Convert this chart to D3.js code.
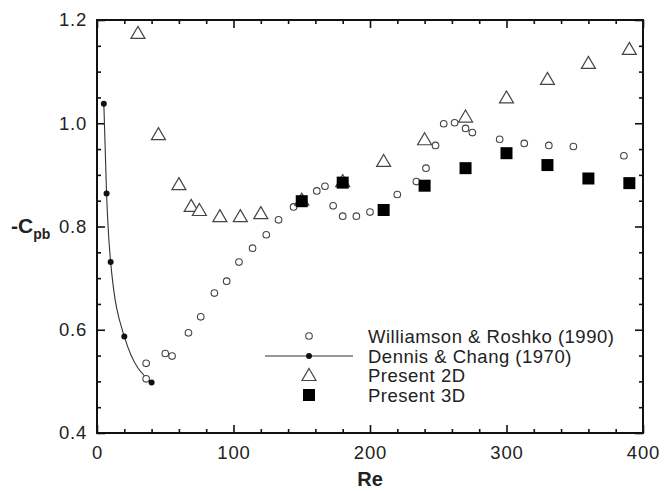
<!DOCTYPE html>
<html>
<head>
<meta charset="utf-8">
<script src="https://cdn.jsdelivr.net/npm/d3@7"></script>
<style>
  body { margin: 0; background: #fff; }
  svg { display: block; font-family: "Liberation Sans", Arial, sans-serif; }
</style>
</head>
<body>
<svg id="chart"></svg>
<script>
// data
const wr_re = [36, 36, 50, 55, 67, 76, 86, 95, 104, 114, 124, 133, 144, 161, 167, 173, 180, 190, 200, 220, 234, 241, 248, 254, 262, 270, 275, 295, 313, 331, 349, 386]
const wr_cp = [0.535, 0.505, 0.554, 0.549, 0.594, 0.625, 0.671, 0.694, 0.731, 0.758, 0.784, 0.813, 0.838, 0.869, 0.878, 0.840, 0.820, 0.820, 0.828, 0.862, 0.887, 0.913, 0.957, 0.999, 1.001, 0.990, 0.982, 0.969, 0.961, 0.957, 0.955, 0.937]

const dc_re = [5, 7, 10, 20, 40]
const dc_cp = [1.038, 0.864, 0.731, 0.587, 0.498]

const p2d_re = [30, 45, 60, 69, 75, 90, 105, 120, 150, 180, 210, 240, 270, 300, 330, 360, 390]
const p2d_cp = [1.175, 0.979, 0.882, 0.840, 0.832, 0.820, 0.820, 0.826, 0.852, 0.888, 0.927, 0.969, 1.013, 1.050, 1.086, 1.117, 1.144]

const p3d_re = [150, 180, 210, 240, 270, 300, 330, 360, 390]
const p3d_cp = [0.849, 0.885, 0.832, 0.879, 0.913, 0.942, 0.919, 0.893, 0.884]

const xTicks = [0, 100, 200, 300, 400]
const yTicks = [0.4, 0.6, 0.8, 1.0, 1.2]
const legendNames = ['Williamson & Roshko (1990)', 'Dennis & Chang (1970)', 'Present 2D', 'Present 3D']

const width = 665
const height = 491
const margin = { top: 20, right: 22, bottom: 58, left: 97 }

const svg = d3.select('#chart')
    .attr('width', width)
    .attr('height', height)

const x = d3.scaleLinear().domain([0, 400]).range([margin.left, width - margin.right])
const y = d3.scaleLinear().domain([0.4, 1.2]).range([height - margin.bottom, margin.top])

const zip = (a, b) => a.map((v, i) => ({ re: v, cp: b[i] }))

// axes, ticks point inward on all four sides
const minorX = d3.range(0, 401, 20).filter(v => v % 100 !== 0)
const minorY = d3.range(0.45, 1.2, 0.05).filter(v => Math.round(v * 100) % 20 !== 0)

function ticks(axisFn, scale, pos, major, minor, labels, pad) {
    const g = svg.append('g').attr('transform', pos)
    g.call(axisFn(scale).tickValues(major).tickSize(-8).tickPadding(pad)
        .tickFormat(labels ? labels : ''))
    g.append('g').call(axisFn(scale).tickValues(minor).tickSize(-4).tickFormat(''))
    g.selectAll('path.domain').remove()
    g.selectAll('line').attr('stroke', '#111').attr('stroke-width', 1.6)
    g.selectAll('text').attr('fill', '#222').attr('font-size', 18.5)
        .attr('letter-spacing', 0.8)
        .attr('font-family', '"Liberation Sans", Arial, sans-serif')
    return g
}

ticks(d3.axisBottom, x, `translate(0,${y(0.4)})`, xTicks, minorX, d3.format('d'), 13)
ticks(d3.axisTop, x, `translate(0,${y(1.2)})`, xTicks, minorX, null, 10)
ticks(d3.axisLeft, y, `translate(${x(0)},0)`, yTicks, minorY, d3.format('.1f'), 10)
ticks(d3.axisRight, y, `translate(${x(400)},0)`, yTicks, minorY, null, 10)

svg.append('rect')
    .attr('x', x(0)).attr('y', y(1.2))
    .attr('width', x(400) - x(0)).attr('height', y(0.4) - y(1.2))
    .attr('fill', 'none').attr('stroke', '#111').attr('stroke-width', 2)

// axis titles
svg.append('text')
    .attr('x', x(200)).attr('y', 486)
    .attr('text-anchor', 'middle')
    .attr('font-size', 20).attr('font-weight', 'bold').attr('fill', '#222')
    .text('Re')

const yl = svg.append('text')
    .attr('x', 11).attr('y', y(0.8) + 6)
    .attr('font-weight', 'bold').attr('fill', '#222')
yl.append('tspan').attr('font-size', 21).text('-C')
yl.append('tspan').attr('font-size', 14).attr('dy', 6).text('pb')

// markers
const triPath = 'M0,-6.5L7,5.5L-7,5.5Z'

function circles(g, data) {
    g.selectAll('circle').data(data).enter().append('circle')
        .attr('cx', d => x(d.re)).attr('cy', d => y(d.cp))
        .attr('r', 3.3)
        .attr('fill', '#fff').attr('stroke', '#444').attr('stroke-width', 1.1)
}

const line = d3.line().x(d => x(d.re)).y(d => y(d.cp)).curve(d3.curveMonotoneX)

svg.append('path')
    .datum(zip(dc_re, dc_cp))
    .attr('d', line)
    .attr('fill', 'none').attr('stroke', '#333').attr('stroke-width', 1.1)

circles(svg.append('g'), zip(wr_re, wr_cp))

svg.append('g').selectAll('circle').data(zip(dc_re, dc_cp)).enter().append('circle')
    .attr('cx', d => x(d.re)).attr('cy', d => y(d.cp))
    .attr('r', 3).attr('fill', '#111')

svg.append('g').selectAll('path').data(zip(p2d_re, p2d_cp)).enter().append('path')
    .attr('transform', d => `translate(${x(d.re)},${y(d.cp)})`)
    .attr('d', triPath)
    .attr('fill', '#fff').attr('stroke', '#444').attr('stroke-width', 1.2)

svg.append('g').selectAll('rect').data(zip(p3d_re, p3d_cp)).enter().append('rect')
    .attr('x', d => x(d.re) - 6).attr('y', d => y(d.cp) - 6)
    .attr('width', 12).attr('height', 12)
    .attr('fill', '#000')

// legend
const lx = 309
const ly = [336, 356, 375, 395]
const legend = svg.append('g')

legend.append('circle').attr('cx', lx).attr('cy', ly[0]).attr('r', 3.3)
    .attr('fill', '#fff').attr('stroke', '#444').attr('stroke-width', 1.1)
legend.append('line').attr('x1', 265).attr('x2', 353).attr('y1', ly[1]).attr('y2', ly[1])
    .attr('stroke', '#333').attr('stroke-width', 1.1)
legend.append('circle').attr('cx', lx).attr('cy', ly[1]).attr('r', 3).attr('fill', '#111')
legend.append('path').attr('transform', `translate(${lx},${ly[2]})`).attr('d', triPath)
    .attr('fill', '#fff').attr('stroke', '#444').attr('stroke-width', 1.2)
legend.append('rect').attr('x', lx - 6).attr('y', ly[3] - 6).attr('width', 12).attr('height', 12)
    .attr('fill', '#000')

legend.selectAll('text').data(legendNames).enter().append('text')
    .attr('x', 368).attr('y', (d, i) => ly[i] + 6.5)
    .attr('font-size', 18.5).attr('letter-spacing', 0.5).attr('fill', '#222')
    .text(d => d)
</script>
</body>
</html>
